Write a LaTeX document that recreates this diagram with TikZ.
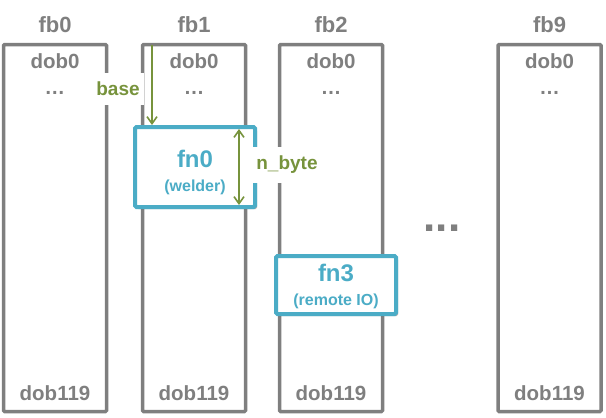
\documentclass[tikz,border=0pt]{standalone}
\usepackage{fontspec}
\setmainfont{Liberation Sans}
\usetikzlibrary{arrows.meta,shadows,positioning}

\definecolor{linegray}{HTML}{7F7F7F}
\definecolor{fnteal}{HTML}{4BACC6}
\definecolor{ptrgreen}{HTML}{77933C}

\tikzset{
	col/.style={draw=linegray, line width=3.5pt, minimum width=103pt, minimum height=367pt, inner sep=0pt, rounded corners=1pt},
	title/.style={text=linegray, font=\fontsize{22}{22}\selectfont\bfseries, anchor=base},
	dob/.style={text=linegray, font=\fontsize{20.5}{20.5}\selectfont\bfseries, anchor=base},
	fnbox/.style={draw=fnteal, fill=white, line width=4pt, minimum width=120pt, inner sep=0pt, rounded corners=1.5pt,
		drop shadow={shadow xshift=2pt, shadow yshift=-2pt, fill=black, opacity=0.3}},
	fnname/.style={text=fnteal, font=\fontsize{24}{24}\selectfont\bfseries, anchor=base},
	fnsub/.style={text=fnteal, font=\fontsize{16}{16}\selectfont\bfseries, anchor=base},
	lbl/.style={text=ptrgreen, fill=white, font=\fontsize{19}{19}\selectfont\bfseries, inner xsep=4pt},
	ptr/.style={draw=ptrgreen, line width=1.6pt, -{Straight Barb[length=7pt,width=10pt]}},
	twoptr/.style={draw=ptrgreen, line width=1.6pt, {Straight Barb[length=7pt,width=10pt]}-{Straight Barb[length=7pt,width=10pt]}}
}

\begin{document}
\begin{tikzpicture}[x=1pt, y=-1pt]
	\useasboundingbox (0,0) rectangle (606,418);

	% frame buffers
	\node[col] (c0) at (55,228) {};
	\node[col] (c1) at (194,228) {};
	\node[col] (c2) at (331,228) {};
	\node[col] (c9) at (549.5,228) {};

	\node[title] (t0) at (55,32) {fb0};
	\node[title] (t1) at (194,32) {fb1};
	\node[title] (t2) at (331,32) {fb2};
	\node[title] (t9) at (549.5,32) {fb9};

	\node[dob] (d0) at (55,68) {dob0};
	\node[dob] (d1) at (194,68) {dob0};
	\node[dob] (d2) at (331,68) {dob0};
	\node[dob] (d9) at (549.5,68) {dob0};

	\node[dob] (e0) at (55,94) {…};
	\node[dob] (e1) at (194,94) {…};
	\node[dob] (e2) at (331,94) {…};
	\node[dob] (e9) at (549.5,94) {…};

	\node[dob] (l0) at (55,400) {dob119};
	\node[dob] (l1) at (194,400) {dob119};
	\node[dob] (l2) at (331,400) {dob119};
	\node[dob] (l9) at (549.5,400) {dob119};

	\node[title, font=\fontsize{44}{44}\selectfont\bfseries] (more) at (442,231) {...};

	% function blocks
	\node[fnbox, minimum height=80pt] (f0) at (195,167) {};
	\node[fnname] (f0name) at (195,167) {fn0};
	\node[fnsub] (f0sub) at (195,191) {(welder)};

	\node[fnbox, minimum height=58pt] (f3) at (336,285) {};
	\node[fnname] (f3name) at (336,281) {fn3};
	\node[fnsub] (f3sub) at (336,305) {(remote IO)};

	% offset and length
	\node[lbl, minimum height=32pt] (base) at (118,89) {base};
	\node[lbl, minimum height=36pt] (nbyte) at (287,165) {n\_byte};

	\coordinate (basetop) at (152,44.5);
	\coordinate (nbtop) at (239,129);
	\coordinate (nbbot) at (239,205);
	\draw[ptr] (basetop) -- (basetop |- f0.north);
	\draw[twoptr] (nbtop) -- (nbbot);
\end{tikzpicture}
\end{document}
